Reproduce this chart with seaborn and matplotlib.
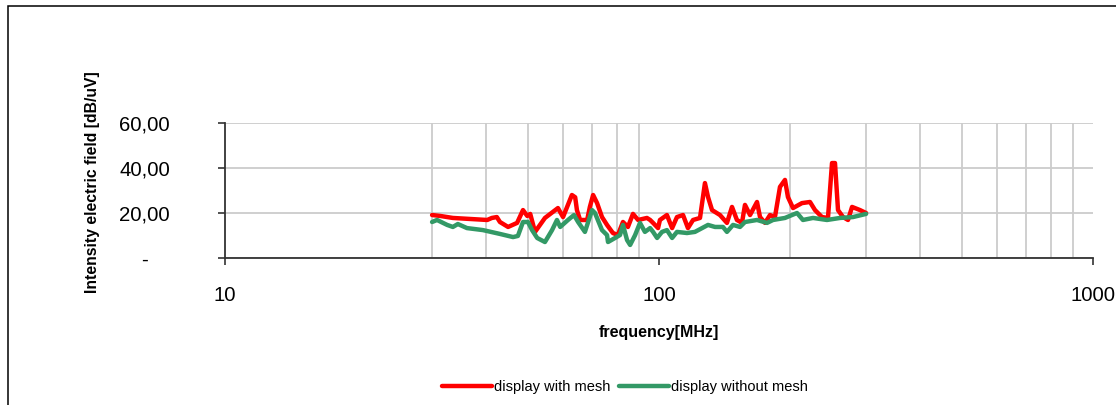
import matplotlib
matplotlib.use("Agg")
import matplotlib.pyplot as plt
import seaborn as sns
import numpy as np
from matplotlib.patches import Rectangle
from matplotlib.ticker import FixedLocator, NullFormatter

# ---- data ----
freq_mesh = [30, 31.3, 33.5, 40.2, 41.2, 42.3, 43.0, 44.9, 47.1, 48.6, 49.7, 50.5, 51.8,
             54.6, 58.5, 60.1, 63.0, 64.1, 64.7, 65.8, 68.3, 69.3, 70.5, 72.0, 73.9, 75.9,
             78.3, 80.4, 82.6, 84.8, 87.1, 89.5, 93.8, 95.4, 96.9, 99.5, 100.5, 104.3, 107.2,
             110.0, 113.6, 116.6, 119.8, 124.3, 127.6, 129.7, 132.5, 138.2, 143.4, 147.3,
             151.2, 155.3, 157.8, 162.1, 168.2, 170.9, 175.5, 180.2, 185.0, 190.0, 195.1,
             198.2, 203.6, 213.5, 222.8, 228.8, 237.4, 245.1, 250.4, 254.4, 258.5, 265.5,
             272.6, 278.5, 290.5, 300]
val_mesh = [19.1, 18.7, 17.8, 16.9, 17.8, 18.2, 16.0, 13.8, 15.6, 21.3, 18.7, 19.6, 11.6,
            17.8, 22.2, 18.2, 28.0, 27.0, 21.3, 16.9, 16.9, 22.7, 28.0, 24.4, 18.2, 14.7,
            11.1, 10.2, 16.0, 13.8, 19.6, 16.9, 17.8, 16.9, 15.6, 13.3, 16.9, 19.1, 13.3,
            18.2, 19.1, 13.3, 16.9, 17.8, 33.3, 27.1, 21.3, 19.1, 15.6, 22.7,
            16.9, 15.6, 23.6, 19.1, 24.9, 18.2, 15.6, 19.1, 18.2, 31.6, 34.7,
            27.1, 22.2, 24.4, 24.9, 21.3, 18.2, 17.8, 42.2, 42.2, 21.3, 18.2,
            16.9, 22.7, 21.3, 20.0]

freq_nomesh = [30, 30.8, 32.5, 33.5, 34.4, 36.1, 39.3, 43.0, 46.1, 47.3, 48.6, 49.9, 51.0,
               52.4, 54.6, 56.7, 58.2, 59.2, 61.7, 63.7, 65.1, 67.5, 70.1, 71.2, 73.9, 75.9,
               76.3, 79.2, 81.3, 82.6, 84.4, 85.8, 88.1, 90.4, 92.8, 95.4, 96.9, 99.0, 101.6,
               104.3, 107.2, 110.0, 116.0, 121.0, 129.7, 134.6, 140.4, 143.4, 148.1, 153.7,
               157.8, 168.2, 177.4, 183.1, 195.1, 202.5, 208.0, 214.6, 226.4, 243.8, 261.3,
               279.9, 300]
val_nomesh = [16.0, 16.9, 14.7, 13.8, 15.1, 13.3, 12.4, 10.7, 9.3, 9.8, 16.0, 16.0, 12.4,
              8.9, 7.1, 12.4, 16.9, 13.8, 16.9, 19.1, 16.0, 11.6, 21.3, 20.0, 12.4, 10.2,
              7.1, 8.9, 10.2, 14.7, 8.0, 5.8, 10.2, 15.6, 11.6, 13.3, 11.6, 8.9, 11.6,
              12.4, 8.9, 11.6, 11.1, 11.6, 14.7, 13.8, 13.8, 11.6, 14.7, 13.8,
              16.0, 16.9, 15.6, 16.9, 17.8, 19.1, 20.0, 16.9, 17.8, 16.9, 17.8,
              18.2, 19.6]

series_labels = ["display with mesh", "display without mesh"]
y_ticks = [0, 20, 40, 60]
y_tick_labels = ["-", "20,00", "40,00", "60,00"]
x_ticks = [10, 100, 1000]
x_tick_labels = ["10", "100", "1000"]
x_grid = [30, 40, 50, 60, 70, 80, 90, 100, 200, 300, 400, 500, 600, 700, 800, 900, 1000]

RED = "#FF0000"
GREEN = "#339966"

sns.set_theme(style="white")
plt.rcParams["font.family"] = ["Liberation Sans", "DejaVu Sans"]
plt.rcParams["text.color"] = "black"
plt.rcParams["xtick.color"] = "black"
plt.rcParams["ytick.color"] = "black"

W, H = 1116, 405
fig = plt.figure(figsize=(W / 100, H / 100), dpi=100)
ax = fig.add_axes([225 / W, 1 - 258 / H, (1093 - 225) / W, (258 - 123) / H])

sns.lineplot(x=freq_mesh, y=val_mesh, ax=ax, color=RED, lw=3.2,
             label=series_labels[0], legend=False)
sns.lineplot(x=freq_nomesh, y=val_nomesh, ax=ax, color=GREEN, lw=3.2,
             label=series_labels[1], legend=False)

ax.set_xscale("log")
ax.set_xlim(10, 1000)
ax.set_ylim(0, 60)

ax.xaxis.set_major_locator(FixedLocator(x_ticks))
ax.set_xticklabels(x_tick_labels)
ax.xaxis.set_minor_locator(FixedLocator(x_grid))
ax.xaxis.set_minor_formatter(NullFormatter())
ax.set_yticks(y_ticks)
ax.set_yticklabels(y_tick_labels, ha="center")

ax.tick_params(axis="x", which="major", direction="out", length=5, width=1.2,
               color="#333333", labelcolor="black", labelsize=14.7, pad=15, bottom=True)
ax.tick_params(axis="x", which="minor", length=0)
ax.tick_params(axis="y", direction="out", length=5, width=1.2, color="#333333",
               labelcolor="black", labelsize=14.7, pad=53, left=True)

ax.grid(False)
ax.grid(True, axis="x", which="minor", color="#cccccc", lw=1.3)
ax.grid(True, axis="y", which="major", color="#cccccc", lw=1.3)
ax.set_axisbelow(True)

for s in ["top", "right"]:
    ax.spines[s].set_visible(False)
for s in ["left", "bottom"]:
    ax.spines[s].set_color("#333333")
    ax.spines[s].set_linewidth(1.3)

ax.set_xlabel("")
ax.set_ylabel("")
fig.text(92 / W, 1 - 182 / H, "Intensity electric field [dB/uV]", rotation=90,
         ha="center", va="center", fontsize=11.3, fontweight="bold", color="black")
fig.text(659 / W, 1 - 333 / H, "frequency[MHz]", ha="center", va="center",
         fontsize=11.5, fontweight="bold", color="black")

handles, labels = ax.get_legend_handles_labels()
fig.legend(handles, labels, loc="center", bbox_to_anchor=(625 / W, 1 - 387 / H),
           ncol=2, frameon=False, fontsize=10.5, handlelength=3.4, handletextpad=0.15,
           columnspacing=0.6, labelcolor="black")

fig.patches.append(Rectangle((8 / W, -0.05), 1.2, 1 - 6 / H + 0.05, transform=fig.transFigure,
                             fill=False, edgecolor="black", lw=1.1))

fig.savefig("out.png", dpi=100)
